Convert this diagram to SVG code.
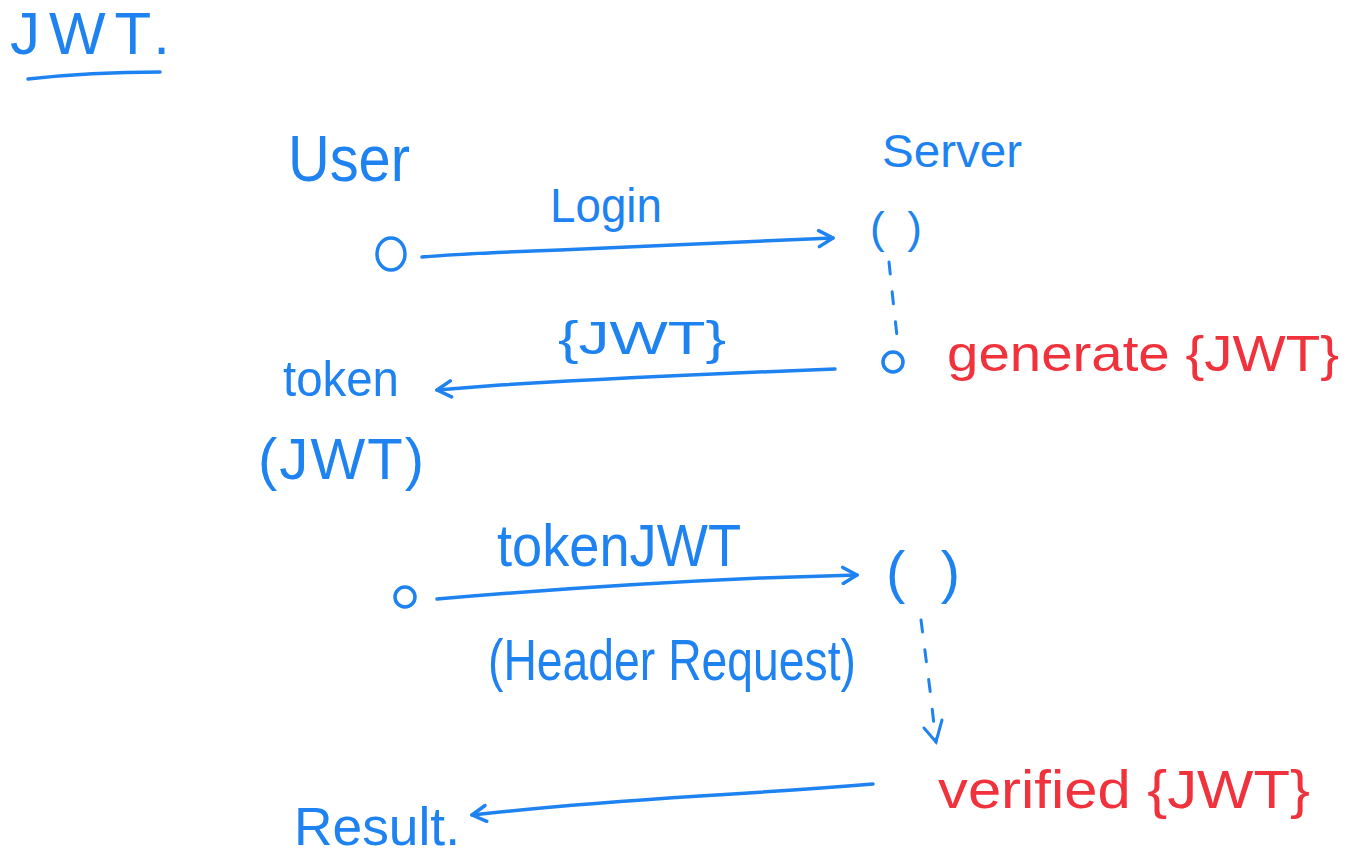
<svg xmlns="http://www.w3.org/2000/svg" width="1346" height="854" viewBox="0 0 1346 854">
<defs>
<style>
.b{fill:#1e82f0;font-family:"Liberation Sans","DejaVu Sans",sans-serif;}
.r{fill:#f0323c;font-family:"Liberation Sans","DejaVu Sans",sans-serif;}
.ln{fill:none;stroke:#1e82f0;stroke-width:3.5;stroke-linecap:round;stroke-linejoin:round;}
.dash{fill:none;stroke:#1e82f0;stroke-width:3;stroke-linecap:round;stroke-dasharray:12 18;}
</style>
<marker id="ah" viewBox="0 0 20 20" refX="18" refY="10" markerWidth="20" markerHeight="20" markerUnits="userSpaceOnUse" orient="auto">
<path d="M4 2 L18 10 L4 18" fill="none" stroke="#1e82f0" stroke-width="3.5" stroke-linecap="round" stroke-linejoin="round"/>
</marker>
</defs>
<rect width="1346" height="854" fill="#ffffff"/>
<g id="title">
<text class="b" x="10" y="54" font-size="60" textLength="160" lengthAdjust="spacing">JWT.</text>
<path class="ln" d="M28 79 Q90 72 160 72"/>
</g>
<g id="user">
<text class="b" x="288" y="181" font-size="64" textLength="122" lengthAdjust="spacingAndGlyphs">User</text>
</g>
<g id="server">
<text class="b" x="882" y="167" font-size="46" textLength="140" lengthAdjust="spacingAndGlyphs">Server</text>
</g>
<g id="login-start">
<ellipse class="ln" cx="391" cy="254" rx="14" ry="16"/>
</g>
<g id="server-recv1">
<text class="b" x="870" y="243" font-size="44" textLength="52" lengthAdjust="spacing">( )</text>
</g>
<g id="server-gen">
<circle class="ln" cx="893" cy="362" r="10"/>
<text class="r" x="947" y="371" font-size="50" textLength="392" lengthAdjust="spacingAndGlyphs">generate {JWT}</text>
</g>
<g id="token">
<text class="b" x="283" y="396" font-size="50" textLength="116" lengthAdjust="spacingAndGlyphs">token</text>
<text class="b" x="258" y="479" font-size="58" textLength="166" lengthAdjust="spacing">(JWT)</text>
</g>
<g id="send-start">
<circle class="ln" cx="405" cy="597" r="10"/>
</g>
<g id="server-recv2">
<text class="b" x="886" y="592" font-size="58" textLength="74" lengthAdjust="spacing">( )</text>
</g>
<g id="verified">
<text class="r" x="938" y="808" font-size="54" textLength="372" lengthAdjust="spacingAndGlyphs">verified {JWT}</text>
</g>
<g id="result">
<text class="b" x="294" y="845" font-size="54" textLength="166" lengthAdjust="spacingAndGlyphs">Result.</text>
</g>
<g id="connectors">
<path class="ln" d="M422 257 Q470 253 560 250 Q700 244 833 238" marker-end="url(#ah)"/>
<text class="b" x="550" y="222" font-size="48" textLength="112" lengthAdjust="spacingAndGlyphs">Login</text>
<path class="dash" d="M889 262 L893 300 L898 345"/>
<path class="ln" d="M835 369 Q650 376 500 385 L437 390" marker-end="url(#ah)"/>
<text class="b" x="558" y="354" font-size="46" textLength="168" lengthAdjust="spacingAndGlyphs">{JWT}</text>
<path class="ln" d="M437 599 Q600 585 760 578 L857 575" marker-end="url(#ah)"/>
<text class="b" x="497" y="566" font-size="60" textLength="244" lengthAdjust="spacingAndGlyphs">tokenJWT</text>
<text class="b" x="488" y="680" font-size="58" textLength="368" lengthAdjust="spacingAndGlyphs">(Header Request)</text>
<path class="dash" d="M921 620 L930 690 L936 742"/>
<path d="M924 728 L936 742 L942 720" fill="none" stroke="#1e82f0" stroke-width="3" stroke-linecap="round"/>
<path class="ln" d="M873 784 Q800 790 700 796 Q560 805 472 815" marker-end="url(#ah)"/>
</g>
</svg>
